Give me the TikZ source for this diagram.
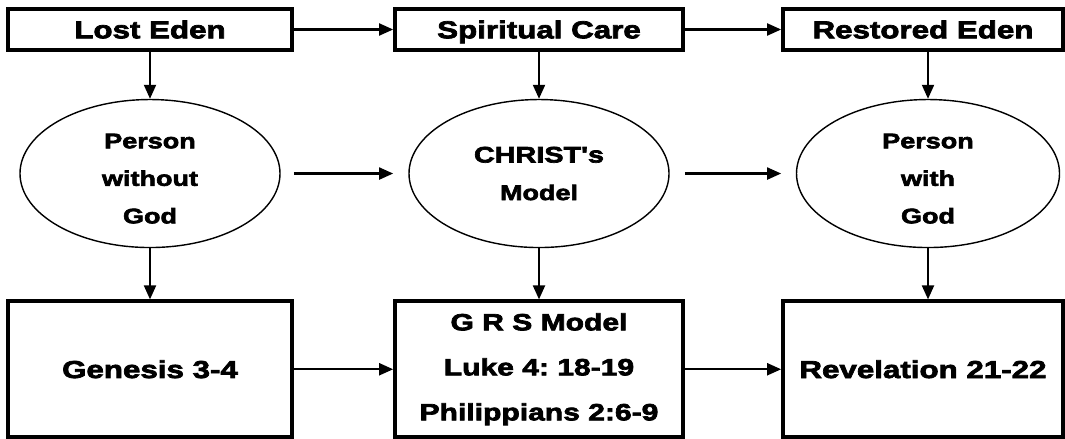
\documentclass[tikz,border=0pt]{standalone}
\usepackage{fontspec}
\usepackage{tikz}
\usetikzlibrary{arrows,arrows.meta}
\usetikzlibrary{shapes,chains}
\usetikzlibrary{positioning}
\frenchspacing
\newfontfamily\mHeavyFont{Liberation Sans Bold}[FakeStretch=1.28,FakeBold=3]
\newcommand{\mBoxText}{\mHeavyFont\fontsize{17.4}{32}\selectfont}
\newcommand{\mOvalText}{\mHeavyFont\fontsize{15}{26.7}\selectfont}
\newcommand{\mFlow}[2]{\draw[->,line width=1.6pt] (#1) -- (#2)}

\begin{document}
\begin{tikzpicture}[>={Triangle[length=10pt,width=8.5pt]},
    topbox/.style={draw,line width=2.6pt,minimum width=7.1cm,minimum height=1.025cm,inner sep=0pt,text height=12.5pt,text depth=0pt,font=\mBoxText},
    oval/.style={draw,ellipse,line width=1pt,minimum width=6.5cm,minimum height=3.7cm,inner sep=0pt,align=center,font=\mOvalText},
    bigbox/.style={draw,line width=2.6pt,minimum width=7.1cm,minimum height=3.4cm,inner sep=0pt,align=center,font=\mBoxText}]
    \useasboundingbox (0,0) rectangle (26.625,-10.975);
    % top row
    \node[topbox] (lost) at (3.75,-0.7375) {Lost Eden};
    \node[topbox,minimum width=7.2cm] (care) at (13.475,-0.7375) {Spiritual Care};
    \node[topbox,minimum width=7cm] (restored) at (23.075,-0.7375) {Restored Eden};
    % middle row
    \node[oval,below=1.175cm of lost,text height=71pt] (without) {Person\\without\\God};
    \node[oval,below=1.175cm of care] (christ) {{\fontsize{16}{26.7}\selectfont CHRIST's}\\Model};
    \node[oval,below=1.175cm of restored,xshift=0.125cm,minimum width=6.575cm,text height=71pt] (with) {Person\\with\\God};
    % bottom row
    \node[bigbox,below=1.28cm of without] (genesis) {Genesis 3-4};
    \node[bigbox,minimum width=7.2cm,below=1.28cm of christ,font=\mHeavyFont\fontsize{16.7}{32}\selectfont] (grs) {G R S Model\\Luke 4: 18-19\\Philippians 2:6-9};
    \node[bigbox,minimum width=7cm] (revelation) at (restored |- genesis) {Revelation 21-22};
    % arrows
    \mFlow{lost}{care};
    \mFlow{care}{restored};
    \mFlow{lost}{without};
    \mFlow{care}{christ};
    \mFlow{restored.south -| with}{with};
    \mFlow{without.east -| lost.east}{christ.west -| care.west};
    \mFlow{christ.east -| care.east}{with.west -| restored.west};
    \mFlow{without}{genesis};
    \mFlow{christ}{grs};
    \mFlow{with}{with |- revelation.north};
    \mFlow{genesis}{grs};
    \mFlow{grs}{revelation};
\end{tikzpicture}
\end{document}
